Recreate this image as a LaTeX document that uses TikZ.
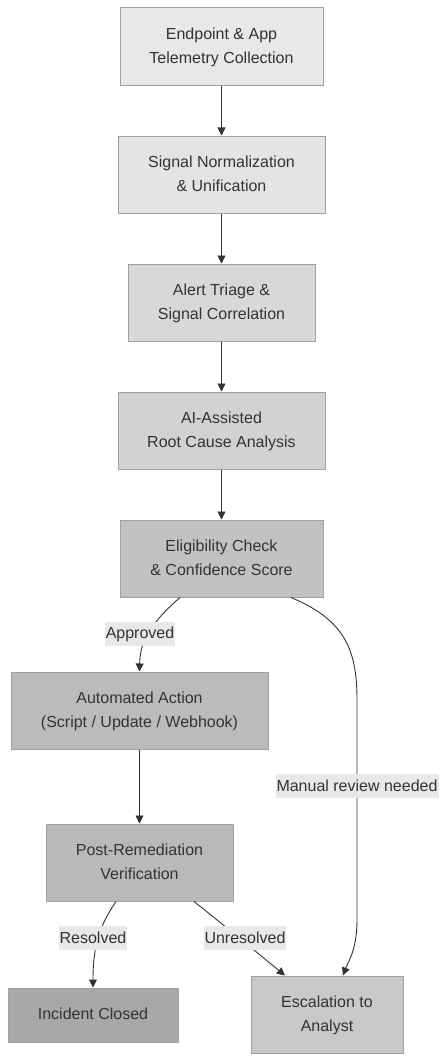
\documentclass[tikz,border=0pt]{standalone}
\usepackage{fontspec}
\setmainfont{Liberation Sans}
\usetikzlibrary{arrows.meta}
\definecolor{txt}{HTML}{333333}
\definecolor{edge}{HTML}{333333}
\definecolor{bord}{HTML}{A0A0A0}
\definecolor{lblbg}{HTML}{E8E8E8}
\tikzset{
  box/.style={draw=bord, line width=1pt, inner sep=0pt, align=center, text=txt,
    font=\fontsize{16}{24}\selectfont},
  conn/.style={draw=edge, line width=0.9pt, -{Triangle[length=8pt,width=8pt]}},
  lbl/.style={fill=lblbg, text=txt, inner xsep=1pt, inner ysep=0pt, minimum height=24pt,
    font=\fontsize{16}{24}\selectfont}
}
\begin{document}
\begin{tikzpicture}[x=1pt,y=-1pt]
\useasboundingbox (0,0) rectangle (446,1062);
\node[box, fill={rgb,255:red,232;green,232;blue,232}, minimum width=203pt, minimum height=78pt] (a) at (221.5,47) {\strut Endpoint \& App\\\strut Telemetry Collection};
\node[box, fill={rgb,255:red,228;green,228;blue,228}, minimum width=207pt, minimum height=77pt] (b) at (221.5,174.5) {\strut Signal Normalization\\\strut\& Unification};
\node[box, fill={rgb,255:red,216;green,216;blue,216}, minimum width=187pt, minimum height=77pt] (c) at (221.5,302.5) {\strut Alert Triage \&\\\strut Signal Correlation};
\node[box, fill={rgb,255:red,210;green,210;blue,210}, minimum width=207pt, minimum height=77pt] (d) at (221.5,430.5) {\strut AI-Assisted\\\strut Root Cause Analysis};
\node[box, fill={rgb,255:red,194;green,194;blue,194}, minimum width=203pt, minimum height=77pt] (e) at (221.5,558.5) {\strut Eligibility Check\\\strut\& Confidence Score};
\node[box, fill={rgb,255:red,187;green,187;blue,187}, minimum width=257pt, minimum height=77pt] (f) at (139.5,710.5) {\strut Automated Action\\\strut(Script / Update / Webhook)};
\node[box, fill={rgb,255:red,185;green,185;blue,185}, minimum width=187pt, minimum height=77pt] (g) at (139.5,862.5) {\strut Post-Remediation\\\strut Verification};
\node[box, fill={rgb,255:red,168;green,168;blue,168}, minimum width=170pt, minimum height=54pt] (h) at (93,1015) {\strut Incident Closed};
\node[box, fill={rgb,255:red,200;green,200;blue,200}, minimum width=152pt, minimum height=77pt] (i) at (327,1014.5) {\strut Escalation to\\\strut Analyst};

\draw[conn] (a) -- (b);
\draw[conn] (b) -- (c);
\draw[conn] (c) -- (d);
\draw[conn] (d) -- (e);
\draw[conn] (f) -- (g);

\coordinate (e1) at ([xshift=-41.5pt]e.south);
\coordinate (e2) at ([xshift=69.5pt]e.south);
\coordinate (g1) at ([xshift=-23.5pt]g.south);
\coordinate (g2) at ([xshift=54.5pt]g.south);
\coordinate (i1) at ([xshift=16pt]i.north);
\coordinate (i2) at ([xshift=-42pt]i.north);

\draw[conn] (e1) .. controls (152,622) and (140,640) .. (f.north);
\draw[conn] (e2) .. controls (345,620) and (357,650) .. (357,700) -- (357,920) .. controls (357,950) and (348,962) .. (i1);
\draw[conn] (g1) .. controls (100,925) and (93,945) .. (h.north);
\draw[conn] (g2) .. controls (230,930) and (260,955) .. (i2);

\node[lbl] (la) at (140,634) {Approved};
\node[lbl] (lb) at (357,786) {Manual review needed};
\node[lbl] (lc) at (93,938) {Resolved};
\node[lbl] (ld) at (245,938) {Unresolved};
\end{tikzpicture}
\end{document}
